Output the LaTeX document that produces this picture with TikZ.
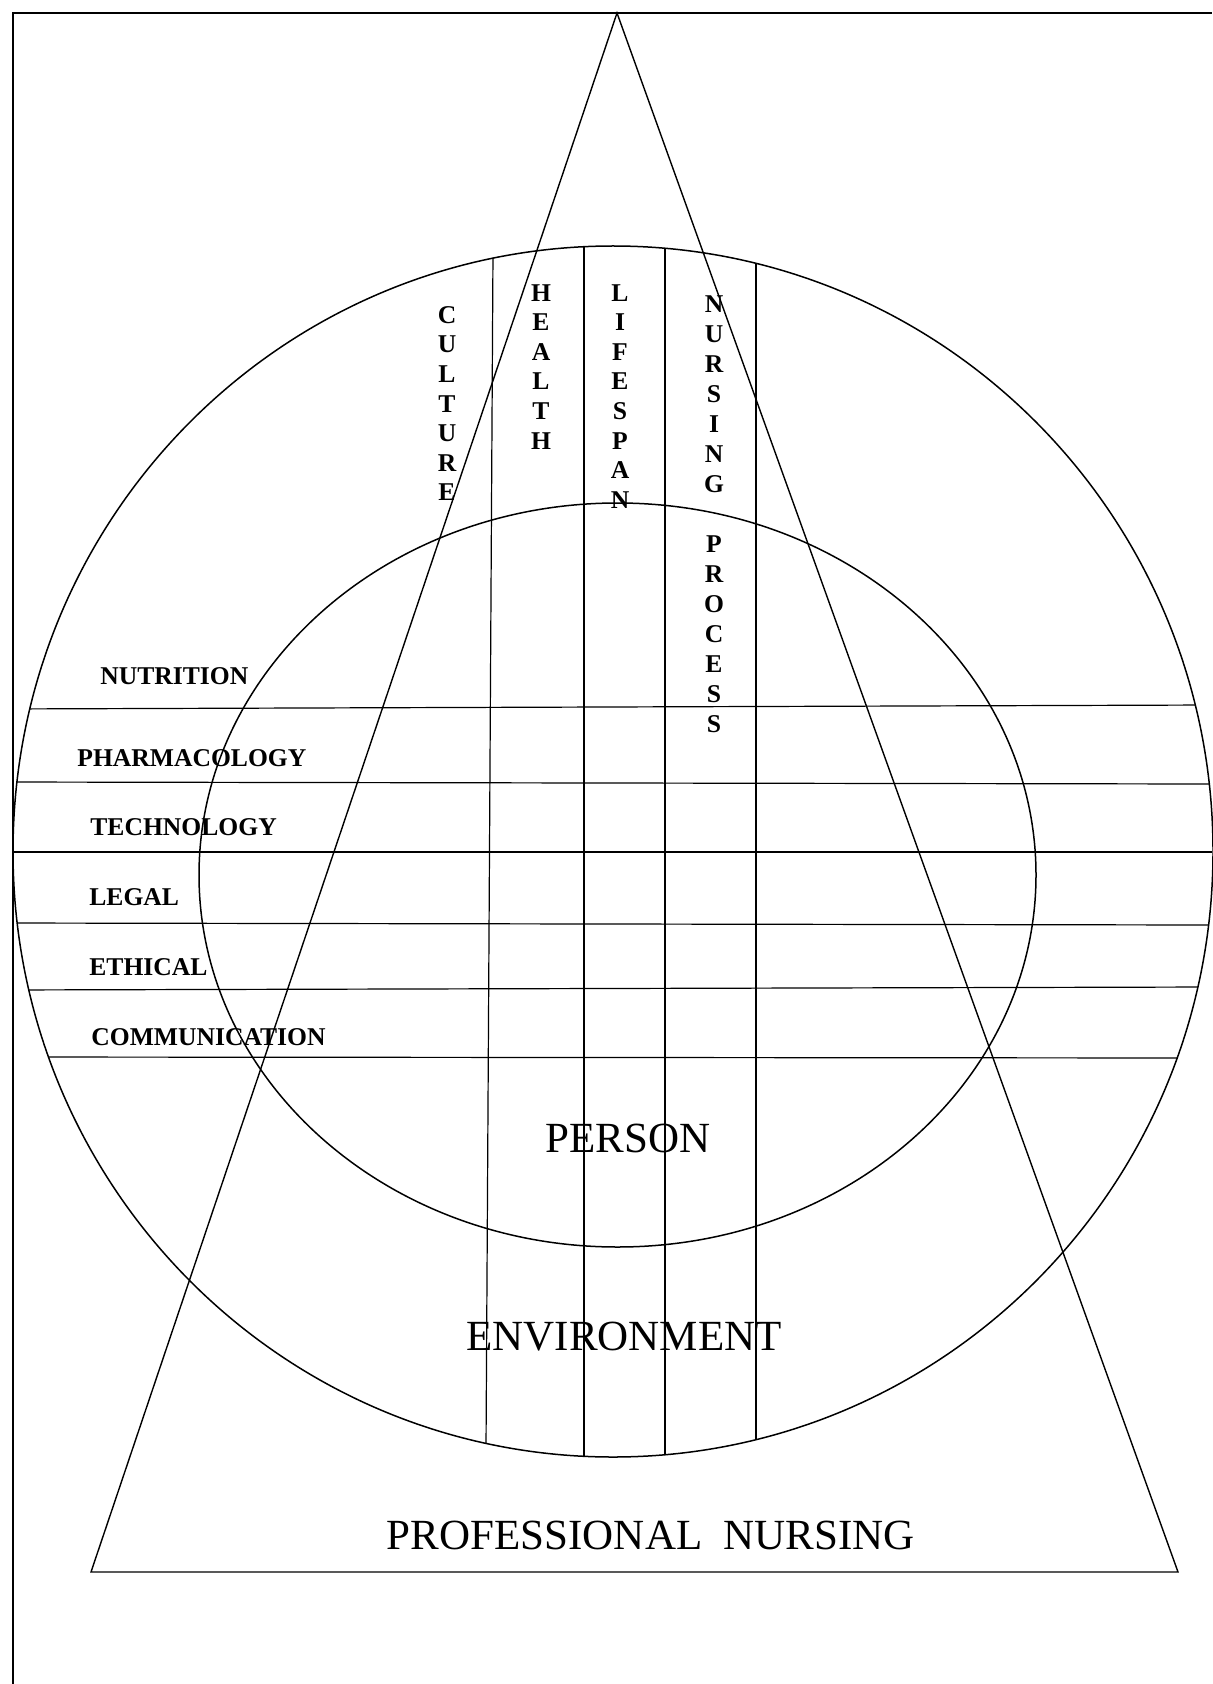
\documentclass[tikz,border=0pt]{standalone}
\usepackage{fontspec}
\setmainfont{Liberation Serif}
\begin{document}
\begin{tikzpicture}[x=0.5pt,y=-0.5pt,
    topic/.style={font=\fontsize{12.8}{14.8}\selectfont\bfseries,inner sep=0pt},
    vtopic/.style={topic,align=center,anchor=north},
    big/.style={font=\fontsize{21.5}{25}\selectfont,inner sep=0pt,anchor=base}]
    % Size of the sheet (in pixels of the scan)
    \def\W{1212}
    \def\H{1684}
    \useasboundingbox (0,0) rectangle (\W,\H);

    % 1) Frame: only the top and left edges are visible
    \draw[line width=1pt] (13,\H) -- (13,13) -- (\W,13);

    % 2) Grid of bands, clipped to the outer circle
    \begin{scope}
      \clip (613,851.5) ellipse [x radius=600, y radius=605.5];
      \foreach \yl/\yr in {709/705,782/784,852/852,923/925,990/987,1057/1058}
        \draw[line width=0.6pt] (0,\yl) -- (\W,\yr);
      \draw[line width=0.6pt] (493.3,200) -- (485.7,1500);
      \foreach \xc in {584,665,756}
        \draw[line width=0.6pt] (\xc,200) -- (\xc,1500);
    \end{scope}

    % 3) Outer circle (environment) and inner circle (person)
    \draw[line width=0.75pt] (613,851.5) ellipse [x radius=600, y radius=605.5];
    \draw[line width=0.75pt] (617.5,875) ellipse [x radius=418.5, y radius=372];

    % 4) The triangle of professional nursing
    \draw[line width=0.7pt] (617,13) -- (91,1572) -- (1178,1572) -- cycle;

    % 5) Vertical labels
    \node[vtopic] (culture) at (447,306) {C\\U\\L\\T\\U\\R\\E};
    \node[vtopic] (health) at (541,284) {H\\E\\A\\L\\T\\H};
    \node[vtopic] (lifespan) at (620,284) {L\\I\\F\\E\\S\\P\\A\\N};
    \node[vtopic,font=\fontsize{12.8}{15}\selectfont\bfseries] (nursproc) at (714,295)
      {N\\U\\R\\S\\I\\N\\G\\[15pt]P\\R\\O\\C\\E\\S\\S};

    % 6) Horizontal labels
    \node[topic,anchor=base west] (nutrition) at (100,684) {NUTRITION};
    \node[topic,anchor=base west] (pharma) at (77,766) {PHARMACOLOGY};
    \node[topic,anchor=base west] (techno) at (90,835) {TECHNOLOGY};
    \node[topic,anchor=base west] (legal) at (89,905.5) {LEGAL};
    \node[topic,anchor=base west] (ethical) at (89,975) {ETHICAL};
    \node[topic,anchor=base west] (comm) at (91,1045) {COMMUNICATION};

    % 7) Big labels
    \node[big] (person) at (628,1152) {PERSON};
    \node[big] (environment) at (624,1350) {ENVIRONMENT};
    \node[big] (profnursing) at (651,1549) {PROFESSIONAL\ \ NURSING};
\end{tikzpicture}
\end{document}
